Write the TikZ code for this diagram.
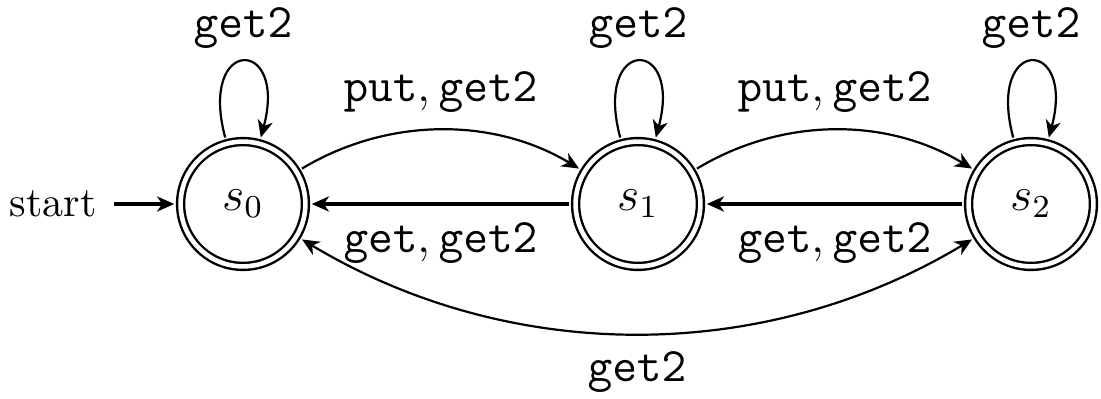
\documentclass[tikz,border=0pt]{standalone}
\usetikzlibrary{arrows.meta}
\begin{document}
\begin{tikzpicture}[x=0.25pt,y=0.25pt,
  state/.style={circle,draw,double,line width=0.6pt,double distance=1.15pt,
    minimum size=31.2pt,inner sep=0pt,outer sep=1.6pt,
    font=\fontsize{11.5}{13}\selectfont},
  tipped/.style={-{Stealth[length=4.3pt,width=3.8pt,inset=1.3pt]}},
  bothtipped/.style={{Stealth[length=4.3pt,width=3.8pt,inset=1.3pt]}-{Stealth[length=4.3pt,width=3.8pt,inset=1.3pt]}},
  thinedge/.style={line width=0.55pt},
  thickedge/.style={line width=0.85pt},
  lbl/.style={font=\fontsize{11.5}{14}\selectfont,inner sep=0pt}
]
\useasboundingbox (0,0) rectangle (1101,398);

\node[state] (s0) at (243,194) {$s_0$};
\node[state] (s1) at (638,194) {$s_1$};
\node[state] (s2) at (1031,194) {$s_2$};
\node[font=\fontsize{10.5}{13}\selectfont,inner ysep=0pt,inner xsep=4.2pt] (start) at (53,194) {start};

% initial arrow
\draw[thickedge,tipped] (start) -- (s0);

% self loops
\draw[thinedge,tipped] (s0.105) .. controls +(105:105) and +(75:105) .. node[lbl,above=3pt] {$\mathtt{get2}$} (s0.75);
\draw[thinedge,tipped] (s1.105) .. controls +(105:105) and +(75:105) .. node[lbl,above=3pt] {$\mathtt{get2}$} (s1.75);
\draw[thinedge,tipped] (s2.105) .. controls +(105:105) and +(75:105) .. node[lbl,above=3pt] {$\mathtt{get2}$} (s2.75);

% forward curved arrows
\draw[thinedge,tipped] (s0.31) .. controls +(31:100) and +(149:100) .. node[lbl,above=4.2pt] {$\mathtt{put},\mathtt{get2}$} (s1.149);
\draw[thinedge,tipped] (s1.31) .. controls +(31:100) and +(149:100) .. node[lbl,above=4.2pt] {$\mathtt{put},\mathtt{get2}$} (s2.149);

% backward straight arrows
\draw[thickedge,tipped] (s1) -- node[lbl,below=4.3pt] {$\mathtt{get},\mathtt{get2}$} (s0);
\draw[thickedge,tipped] (s2) -- node[lbl,below=4.3pt] {$\mathtt{get},\mathtt{get2}$} (s1);

% long bottom arc
\draw[thinedge,bothtipped] (s0.-31) .. controls +(-31:243) and +(211:243) .. node[lbl,below=4.5pt] {$\mathtt{get2}$} (s2.211);
\end{tikzpicture}
\end{document}
